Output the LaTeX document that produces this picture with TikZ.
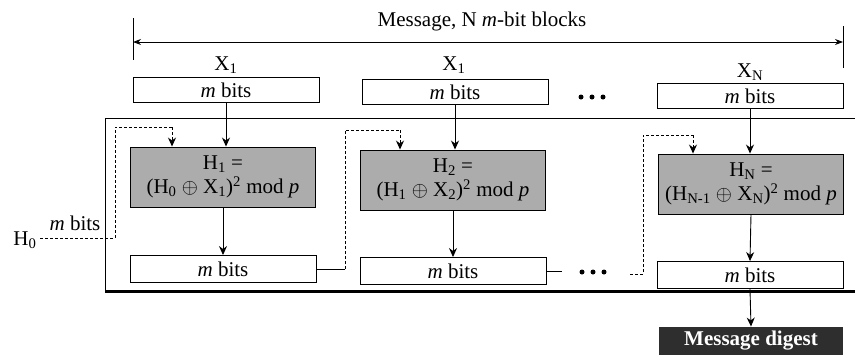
\documentclass[tikz,border=0pt]{standalone}
\usepackage{fontspec}
\setmainfont{Liberation Serif}
\usetikzlibrary{arrows.meta}
\begin{document}
\begin{tikzpicture}[x=1pt,y=-1pt,
  font=\fontsize{21}{25}\selectfont,
  line width=0.9pt,
  bitbox/.style={draw, fill=white, minimum width=186pt, minimum height=25pt, inner sep=0pt},
  graybox/.style={draw, fill=gray!65, minimum width=185pt, minimum height=60pt, inner sep=0pt, align=center, font=\fontsize{21}{24}\selectfont},
  digest/.style={fill=black!82, text=white, font=\fontsize{21}{25}\selectfont\bfseries, minimum width=184pt, minimum height=28pt, inner sep=0pt},
  arr/.style={-{Stealth[length=9pt,width=8pt]}},
  dsh/.style={densely dashed},
  dotmark/.style={circle, fill=black, inner sep=0pt, minimum size=5pt}
]
\useasboundingbox (0,0) rectangle (855,354);

% message span
\coordinate (tl1) at (133,18); \coordinate (tl2) at (133,60);
\coordinate (tr1) at (843,26); \coordinate (tr2) at (843,68);
\coordinate (al) at (133,42); \coordinate (ar) at (843,42);
\draw (tl1) -- (tl2);
\draw (tr1) -- (tr2);
\draw[{Stealth[length=8pt,width=6pt]}-{Stealth[length=8pt,width=6pt]}] (al) -- (ar);
\node (msg) at (482,21) {Message, N \textit{m}-bit blocks};

% block labels
\node (x1) at (226,65) {X\textsubscript{1}};
\node (x2) at (454,65) {X\textsubscript{1}};
\node (x3) at (750,72) {X\textsubscript{N}};

% frame
\coordinate (f1) at (105,118); \coordinate (f2) at (855,118);
\coordinate (f3) at (105,291); \coordinate (f4) at (855,291);
\draw (f2) -- (f1) -- (f3);
\draw[line width=3pt] (f3) -- (f4);

% top boxes
\node[bitbox] (b1) at (226,90) {\textit{m} bits};
\node[bitbox] (b2) at (455,92) {\textit{m} bits};
\node[bitbox] (b3) at (750,96) {\textit{m} bits};

% gray boxes
\node[graybox] (g1) at (223,177) {H\textsubscript{1} =\\(H\textsubscript{0} $\oplus$ X\textsubscript{1})\textsuperscript{2} mod \textit{p}};
\node[graybox] (g2) at (453,180) {H\textsubscript{2} =\\(H\textsubscript{1} $\oplus$ X\textsubscript{2})\textsuperscript{2} mod \textit{p}};
\node[graybox] (g3) at (751,184) {H\textsubscript{N} =\\(H\textsubscript{N-1} $\oplus$ X\textsubscript{N})\textsuperscript{2} mod \textit{p}};

% bottom boxes
\node[bitbox, minimum height=27pt] (o1) at (223,269) {\textit{m} bits};
\node[bitbox, minimum height=27pt] (o2) at (453,271) {\textit{m} bits};
\node[bitbox, minimum height=27pt] (o3) at (750,275) {\textit{m} bits};

% digest
\node[digest] (dg) at (751,341) {Message digest};

% vertical arrows
\draw[arr] (b1.south) -- (b1.south |- g1.north);
\draw[arr] (b2.south) -- (b2.south |- g2.north);
\draw[arr] (b3.south) -- (b3.south |- g3.north);
\draw[arr] (g1.south) -- (o1.north);
\draw[arr] (g2.south) -- (o2.north);
\draw[arr] (g3.south) -- (o3.north);
\draw[arr] (o3.south) -- (dg.north);

% H0 input
\node (h0) at (25,240) {H\textsubscript{0}};
\node (ml) at (75,223) {\textit{m} bits};
\coordinate (h0a) at (115,238);
\coordinate (h0b) at (115,127);
\coordinate (h0c) at (172,127);
\draw[dsh] (h0.east |- h0a) -- (h0a) -- (h0b) -- (h0c);
\draw[dsh, arr] (h0c) -- (h0c |- g1.north);

% chain 1 -> 2
\coordinate (c1a) at (345,269);
\coordinate (c1b) at (345,130);
\coordinate (c1c) at (400,130);
\draw (o1.east) -- (c1a);
\draw[dsh] (c1a) -- (c1b) -- (c1c);
\draw[dsh, arr] (c1c) -- (c1c |- g2.north);

% chain 2 -> 3
\coordinate (c2a) at (562,271);
\draw (o2.east |- c2a) -- (c2a);
\node[dotmark] (d1) at (582,272) {};
\node[dotmark] (d2) at (593,272) {};
\node[dotmark] (d3) at (604,272) {};
\node[dotmark] (e1) at (581,97) {};
\node[dotmark] (e2) at (592,97) {};
\node[dotmark] (e3) at (603,97) {};
\coordinate (c3a) at (630,274);
\coordinate (c3b) at (643,274);
\coordinate (c3c) at (643,135);
\coordinate (c3d) at (693,135);
\draw[dsh] (c3a) -- (c3b) -- (c3c) -- (c3d);
\draw[dsh, arr] (c3d) -- (c3d |- g3.north);
\end{tikzpicture}
\end{document}
